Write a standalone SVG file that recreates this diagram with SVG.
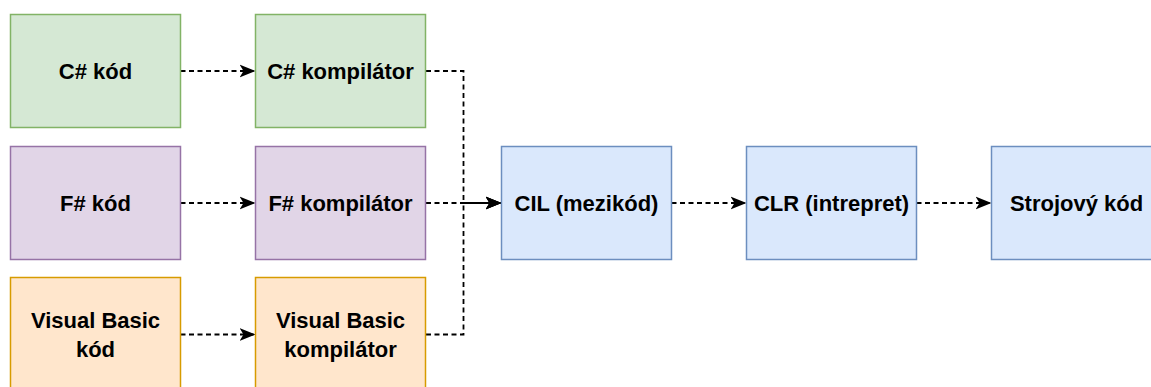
<svg xmlns="http://www.w3.org/2000/svg" width="1151" height="387" viewBox="0 0 1151 387">
<style>
.n{stroke-width:1.5}
.g{fill:#d5e8d4;stroke:#82b366}
.p{fill:#e1d5e7;stroke:#9673a6}
.o{fill:#ffe6cc;stroke:#d79b00}
.b{fill:#dae8fc;stroke:#6c8ebf}
text{font-family:"Liberation Sans",Arial,sans-serif;font-weight:bold;font-size:22px;fill:#000;text-anchor:middle}
.e{fill:none;stroke:#000;stroke-width:1.8;stroke-dasharray:5 3.5;marker-end:url(#arr)}
</style>
<defs>
<marker id="arr" markerUnits="userSpaceOnUse" markerWidth="17" markerHeight="15" refX="16" refY="7" orient="auto">
<path d="M0,0.5 L16,7 L0,13.5 L4,7 Z" fill="#000"/>
</marker>
</defs>
<rect width="1151" height="387" fill="#fff"/>
<g id="connectors">
<path class="e" d="M180.5,71 H255.5"/>
<path class="e" d="M180.5,203 H255.5"/>
<path class="e" d="M180.5,334.5 H255.5"/>
<path class="e" d="M426,71 H463.5 V203 H501.5"/>
<path class="e" d="M426,203 H501.5"/>
<path class="e" d="M426,334.5 H463.5 V203 H501.5"/>
<path class="e" d="M671.5,203 H746.5"/>
<path class="e" d="M916.5,203 H991.5"/>
</g>
<g id="cs-kod"><rect class="n g" x="10.5" y="14.5" width="170" height="113"/><text x="95.5" y="78.7">C# kód</text></g>
<g id="cs-komp"><rect class="n g" x="255.5" y="14.5" width="170" height="113"/><text x="340.5" y="78.7">C# kompilátor</text></g>
<g id="fs-kod"><rect class="n p" x="10.5" y="146.5" width="170" height="113"/><text x="95.5" y="210.7">F# kód</text></g>
<g id="fs-komp"><rect class="n p" x="255.5" y="146.5" width="170" height="113"/><text x="340.5" y="210.7">F# kompilátor</text></g>
<g id="vb-kod"><rect class="n o" x="10.5" y="277.5" width="170" height="113"/><text x="95.5" y="328.3">Visual Basic</text><text x="95.5" y="356.5">kód</text></g>
<g id="vb-komp"><rect class="n o" x="255.5" y="277.5" width="170" height="113"/><text x="340.5" y="328.3">Visual Basic</text><text x="340.5" y="356.5">kompilátor</text></g>
<g id="cil"><rect class="n b" x="501.5" y="146.5" width="170" height="113"/><text x="586.5" y="210.7">CIL (mezikód)</text></g>
<g id="clr"><rect class="n b" x="746.5" y="146.5" width="170" height="113"/><text x="831.5" y="210.7">CLR (intrepret)</text></g>
<g id="stroj"><rect class="n b" x="991.5" y="146.5" width="170" height="113"/><text x="1076.5" y="210.7">Strojový kód</text></g>
</svg>
